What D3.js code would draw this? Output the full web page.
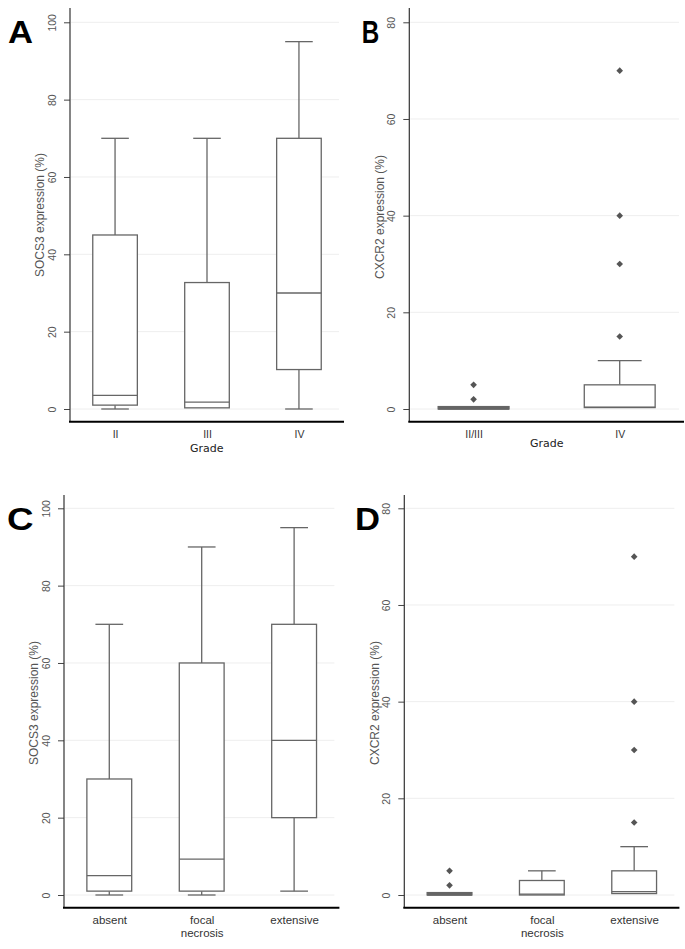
<!DOCTYPE html>
<html>
<head>
<meta charset="utf-8">
<script src="https://cdn.jsdelivr.net/npm/d3@7"></script>
<style>
  body { margin: 0; background: #fff; }
  svg { display: block; font-family: "Liberation Sans", Arial, sans-serif; }
</style>
</head>
<body>
<script>
// Panel A: SOCS3 by grade
const catsA = ["II", "III", "IV"];
const loA = [0, 0.3, 0];
const q1A = [1, 0.3, 10.2];
const medA = [3.5, 1.8, 30];
const q3A = [45, 32.7, 70];
const hiA = [70, 70, 95];
const outA = [[], [], []];

// Panel B: CXCR2 by grade
const catsB = ["II/III", "IV"];
const loB = [0, 0.3];
const q1B = [0, 0.3];
const medB = [0, 0.4];
const q3B = [0.5, 5];
const hiB = [0.5, 10];
const outB = [[2, 5], [15, 30, 40, 70]];

// Panel C: SOCS3 by necrosis
const catsC = ["absent", "focal necrosis", "extensive"];
const loC = [0, 0, 1];
const q1C = [1, 1, 20];
const medC = [5, 9.3, 40];
const q3C = [30, 60, 70];
const hiC = [70, 90, 95];
const outC = [[], [], []];

// Panel D: CXCR2 by necrosis
const catsD = ["absent", "focal necrosis", "extensive"];
const loD = [0, 0, 0.3];
const q1D = [0, 0, 0.3];
const medD = [0, 0.2, 0.7];
const q3D = [0.5, 3, 5];
const hiD = [0.5, 5, 10];
const outD = [[2, 5], [], [15, 30, 40, 70]];

const ticksSocs = [0, 20, 40, 60, 80, 100];
const ticksCxcr = [0, 20, 40, 60, 80];

const svg = d3.select("body").append("svg")
    .attr("width", 685)
    .attr("height", 949);

const boxColor = "#666";

function drawPanel(p) {
    const g = svg.append("g");
    const y = d3.scaleLinear().domain([0, p.ticks[p.ticks.length - 1]]).range([p.y0, p.yTop]);
    const x = d3.scalePoint().domain(p.cats).range([p.left, p.right]).padding(p.pad);
    const bw = x.step() * 0.485, cw = x.step() * 0.3;

    // faint gridlines
    g.selectAll(".grid")
        .data(p.ticks)
        .join("line")
        .attr("x1", p.left + 1)
        .attr("x2", p.right - 5)
        .attr("y1", d => y(d))
        .attr("y2", d => y(d))
        .attr("stroke", "#eeeeee");

    // y axis, labels rotated like the original
    const ya = g.append("g")
        .attr("transform", `translate(${p.left},0)`)
        .call(d3.axisLeft(y).tickValues(p.ticks).tickSize(6).tickSizeOuter(0));
    ya.select(".domain").remove();
    ya.selectAll(".tick line").attr("stroke", "#444");
    ya.selectAll(".tick text")
        .attr("transform", "rotate(-90)")
        .attr("x", 0)
        .attr("y", -18)
        .attr("dy", "0.35em")
        .attr("text-anchor", "middle")
        .attr("font-size", "10.5px")
        .attr("fill", "#555");

    g.append("line")
        .attr("x1", p.left).attr("x2", p.left)
        .attr("y1", p.axisTop).attr("y2", p.xAxisY)
        .attr("stroke", "#333").attr("stroke-width", 1.2);

    g.append("text")
        .attr("transform", `translate(${p.left - 30},${p.labelY}) rotate(-90)`)
        .attr("text-anchor", "middle")
        .attr("dy", "0.35em")
        .attr("font-size", "12px")
        .attr("fill", "#555")
        .text(p.yLabel);

    // x axis
    const xa = g.append("g")
        .attr("transform", `translate(0,${p.xAxisY})`)
        .call(d3.axisBottom(x).tickSize(0));
    xa.select(".domain").remove();
    xa.selectAll(".tick text")
        .attr("y", 16)
        .attr("dy", null)
        .attr("font-size", p.catFont)
        .attr("font-family", p.catFamily)
        .attr("fill", "#333")
        .text(null)
        .each(function (d) {
            const words = d.split(" ");
            const t = d3.select(this);
            words.forEach((w, i) => {
                t.append("tspan").attr("x", 0).attr("dy", i ? 13 : 0).text(w);
            });
        });

    g.append("line")
        .attr("x1", p.left - 1).attr("x2", p.right)
        .attr("y1", p.xAxisY).attr("y2", p.xAxisY)
        .attr("stroke", "#000").attr("stroke-width", 2);

    if (p.xLabel) {
        g.append("text")
            .attr("x", p.xLabelX)
            .attr("y", p.xLabelY)
            .attr("text-anchor", "middle")
            .attr("font-family", "'DejaVu Sans', sans-serif")
            .attr("font-size", "11px")
            .attr("fill", "#222")
            .text(p.xLabel);
    }

    const rows = p.cats.map((c, i) => ({
        c, lo: p.lo[i], q1: p.q1[i], med: p.med[i], q3: p.q3[i], hi: p.hi[i], out: p.out[i]
    }));

    const box = g.selectAll(".box")
        .data(rows)
        .join("g")
        .attr("class", "box")
        .attr("stroke", boxColor)
        .attr("stroke-width", 1.3);

    // whiskers + caps
    box.filter(d => d.hi > d.q3).append("line")
        .attr("x1", d => x(d.c)).attr("x2", d => x(d.c))
        .attr("y1", d => y(d.hi)).attr("y2", d => y(d.q3));
    box.filter(d => d.hi > d.q3).append("line")
        .attr("x1", d => x(d.c) - cw / 2).attr("x2", d => x(d.c) + cw / 2)
        .attr("y1", d => y(d.hi)).attr("y2", d => y(d.hi));
    box.filter(d => d.lo < d.q1).append("line")
        .attr("x1", d => x(d.c)).attr("x2", d => x(d.c))
        .attr("y1", d => y(d.q1)).attr("y2", d => y(d.lo));
    box.filter(d => d.lo < d.q1).append("line")
        .attr("x1", d => x(d.c) - cw / 2).attr("x2", d => x(d.c) + cw / 2)
        .attr("y1", d => y(d.lo)).attr("y2", d => y(d.lo));

    box.append("rect")
        .attr("x", d => x(d.c) - bw / 2)
        .attr("width", bw)
        .attr("y", d => y(d.q3))
        .attr("height", d => y(d.q1) - y(d.q3))
        .attr("fill", d => (d.q3 - d.q1) < 1 ? boxColor : "#fff");

    box.append("line")
        .attr("x1", d => x(d.c) - bw / 2).attr("x2", d => x(d.c) + bw / 2)
        .attr("y1", d => y(d.med)).attr("y2", d => y(d.med));

    // outliers
    box.selectAll(".out")
        .data(d => d.out.map(v => ({c: d.c, v})))
        .join("path")
        .attr("class", "out")
        .attr("d", d3.symbol().type(d3.symbolSquare).size(22))
        .attr("transform", d => `translate(${x(d.c)},${y(d.v)}) rotate(45)`)
        .attr("fill", "#555")
        .attr("stroke", "none");

    // panel letter
    svg.append("text")
        .attr("x", p.letterX)
        .attr("y", p.letterY)
        .attr("font-size", "32px")
        .attr("font-weight", "bold")
        .attr("font-family", "'Liberation Sans', Arial, sans-serif")
        .attr("textLength", p.letterW)
        .attr("lengthAdjust", "spacingAndGlyphs")
        .attr("fill", "#000")
        .text(p.letter);
}

drawPanel({
    cats: catsA, lo: loA, q1: q1A, med: medA, q3: q3A, hi: hiA, out: outA,
    ticks: ticksSocs, y0: 409, yTop: 22.3, left: 70, right: 344, pad: 0.49,
    axisTop: 8, xAxisY: 421.7, labelY: 215, yLabel: "SOCS3 expression (%)",
    catFont: "10.5px", catFamily: "'Liberation Sans Narrow', 'Liberation Sans', sans-serif",
    xLabel: "Grade", xLabelX: 206.7, xLabelY: 452,
    letter: "A", letterX: 8, letterY: 43.3, letterW: 25
});

drawPanel({
    cats: catsB, lo: loB, q1: q1B, med: medB, q3: q3B, hi: hiB, out: outB,
    ticks: ticksCxcr, y0: 409, yTop: 22.3, left: 409.3, right: 684, pad: 0.44,
    axisTop: 8, xAxisY: 421.7, labelY: 217, yLabel: "CXCR2 expression (%)",
    catFont: "10.5px", catFamily: "'Liberation Sans Narrow', 'Liberation Sans', sans-serif",
    xLabel: "Grade", xLabelX: 546.7, xLabelY: 447,
    letter: "B", letterX: 361.7, letterY: 42.7, letterW: 17.5
});

drawPanel({
    cats: catsC, lo: loC, q1: q1C, med: medC, q3: q3C, hi: hiC, out: outC,
    ticks: ticksSocs, y0: 895, yTop: 508.3, left: 64, right: 339.4, pad: 0.49,
    axisTop: 495, xAxisY: 907.7, labelY: 703, yLabel: "SOCS3 expression (%)",
    catFont: "11.5px", catFamily: "'Liberation Sans', Arial, sans-serif",
    xLabel: null,
    letter: "C", letterX: 7, letterY: 529.5, letterW: 26.5
});

drawPanel({
    cats: catsD, lo: loD, q1: q1D, med: medD, q3: q3D, hi: hiD, out: outD,
    ticks: ticksCxcr, y0: 895, yTop: 508.3, left: 404.3, right: 679.4, pad: 0.49,
    axisTop: 495, xAxisY: 907.7, labelY: 703, yLabel: "CXCR2 expression (%)",
    catFont: "11.5px", catFamily: "'Liberation Sans', Arial, sans-serif",
    xLabel: null,
    letter: "D", letterX: 355, letterY: 530, letterW: 25
});
</script>
</body>
</html>
